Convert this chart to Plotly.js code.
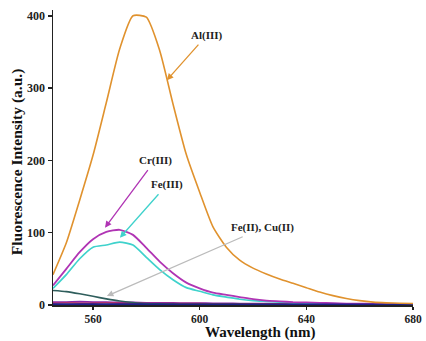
<!DOCTYPE html>
<html>
<head>
<meta charset="utf-8">
<script src="https://cdn.plot.ly/plotly-3.0.1.min.js"></script>
<style>html,body{margin:0;padding:0;background:#fff;}#chart{width:426px;height:341px;}</style>
</head>
<body>
<div id="chart"></div>
<script>
// Wavelength grid (nm)
const wavelength = [545,550,555,560,565,570,575,580,585,590,595,600,605,610,615,620,625,630,635,640,645,650,655,660,665,670,675,680];

// Series values (a.u.)
const alIII   = [42,86,145,207,280,354,400,398,352,278,208,156,108,80,62,51,43,36,30,24,18,13,9,6,4,3,2.5,2];
const crIII   = [27,50,73,91,101,104,97,79,60,44,31,23,17,14,11,8,6,5,4,3.5,3,2.5,2,2,1.5,1.5,1.2,1];
const feIII   = [23,42,64,80,83,87,83,66,49,35,24,19,14,11,8,6,5,4,3,2.5,2,2,1.5,1.5,1.2,1,1,1];
const feIICuII= [20,18.5,15.5,12,8.5,5.5,3.5,2,1.5,1.2,1,1,0.9,0.8,0.8,0.7,0.7,0.6,0.6,0.6,0.5,0.5,0.5,0.5,0.5,0.5,0.5,0.5];
const otherA  = [4,4,4.5,4,4,3.5,3.5,3,3,2.8,2.6,2.5,2.3,2.2,2,2,1.9,1.8,1.7,1.6,1.5,1.5,1.4,1.4,1.3,1.3,1.2,1.2];
const otherB  = [2.5,3,2.5,2.5,3,2.5,2.5,2.2,2.2,2,2,2,1.8,1.8,1.7,1.6,1.5,1.5,1.4,1.4,1.3,1.3,1.2,1.2,1.2,1.1,1.1,1.1];
const otherC  = [1.2,1.2,1.2,1.1,1.1,1.1,1.1,1,1,1,1,1,1,1,1,1,0.9,0.9,0.9,0.9,0.9,0.9,0.9,0.9,0.9,0.9,0.9,0.9];

const labels = ["Al(III)","Cr(III)","Fe(III)","Fe(II), Cu(II)"];
const yTicks = [0,100,200,300,400];
const xTicks = [560,600,640,680];
const xTitle = "Wavelength (nm)";
const yTitle = "Fluorescence Intensity (a.u.)";

const serif = "Liberation Serif, Times New Roman, serif";

function tr(y, color, w){
  return {x: wavelength, y: y, type:"scatter", mode:"lines",
          line:{color:color, width:w, shape:"spline", smoothing:0.6},
          hoverinfo:"skip", showlegend:false};
}

const data = [
  tr(otherA, "#8a2aa8", 1.8),
  tr(otherB, "#c0305a", 1.4),
  tr(feIICuII, "#2f5e5c", 1.6),
  tr(feIII, "#3fd2cc", 1.7),
  tr(crIII, "#b034b4", 1.8),
  tr(otherC, "#1b1f8a", 1.8),
  tr(alIII, "#e0922e", 1.6)
];

function ann(text, x, y, ax, ay, color){
  return {x:x, y:y, xref:"x", yref:"y", text:"<b>"+text+"</b>", showarrow:true,
          ax:ax, ay:ay, arrowhead:2, arrowsize:1, arrowwidth:1.3, arrowcolor:color,
          font:{family:serif, size:11, color:"#222"}, standoff:0, startstandoff:2};
}

const layout = {
  width:426, height:341,
  margin:{l:53, r:13, t:10, b:36},
  paper_bgcolor:"#fff", plot_bgcolor:"#fff",
  xaxis:{range:[545,680], tickvals:xTicks, ticktext:xTicks.map(String),
         showgrid:false, zeroline:false, showline:true, linecolor:"#222", linewidth:1.5,
         ticks:"outside", ticklen:3, tickwidth:1.5, tickcolor:"#222",
         tickfont:{family:serif, size:11.5, color:"#222", weight:"bold"}},
  yaxis:{range:[0,408], tickvals:yTicks, ticktext:yTicks.map(String),
         showgrid:false, zeroline:false, showline:true, linecolor:"#222", linewidth:1.5,
         ticks:"outside", ticklen:4, tickwidth:1.5, tickcolor:"#222",
         tickfont:{family:serif, size:12, color:"#222", weight:"bold"}},
  annotations:[
    ann(labels[0], 587.7, 311, 40, -45, "#e0922e"),
    ann(labels[1], 564.5, 107, 50, -67, "#b034b4"),
    ann(labels[2], 570.1, 93, 47, -53, "#3fd2cc"),
    ann(labels[3], 565.2, 12.5, 156, -68, "#bbbbbb"),
    {xref:"paper", yref:"paper", x:0.575, y:-0.062, xanchor:"center", yanchor:"top",
     text:"<b>"+xTitle+"</b>", showarrow:false, borderpad:0,
     font:{family:serif, size:15, color:"#111"}},
    {xref:"paper", yref:"paper", x:-0.1, y:0.484, xanchor:"center", yanchor:"middle",
     textangle:-90, text:"<b>"+yTitle+"</b>", showarrow:false, font:{family:serif, size:15.5, color:"#111"}}
  ]
};

Plotly.newPlot("chart", data, layout, {staticPlot:true, displayModeBar:false});
</script>
</body>
</html>
